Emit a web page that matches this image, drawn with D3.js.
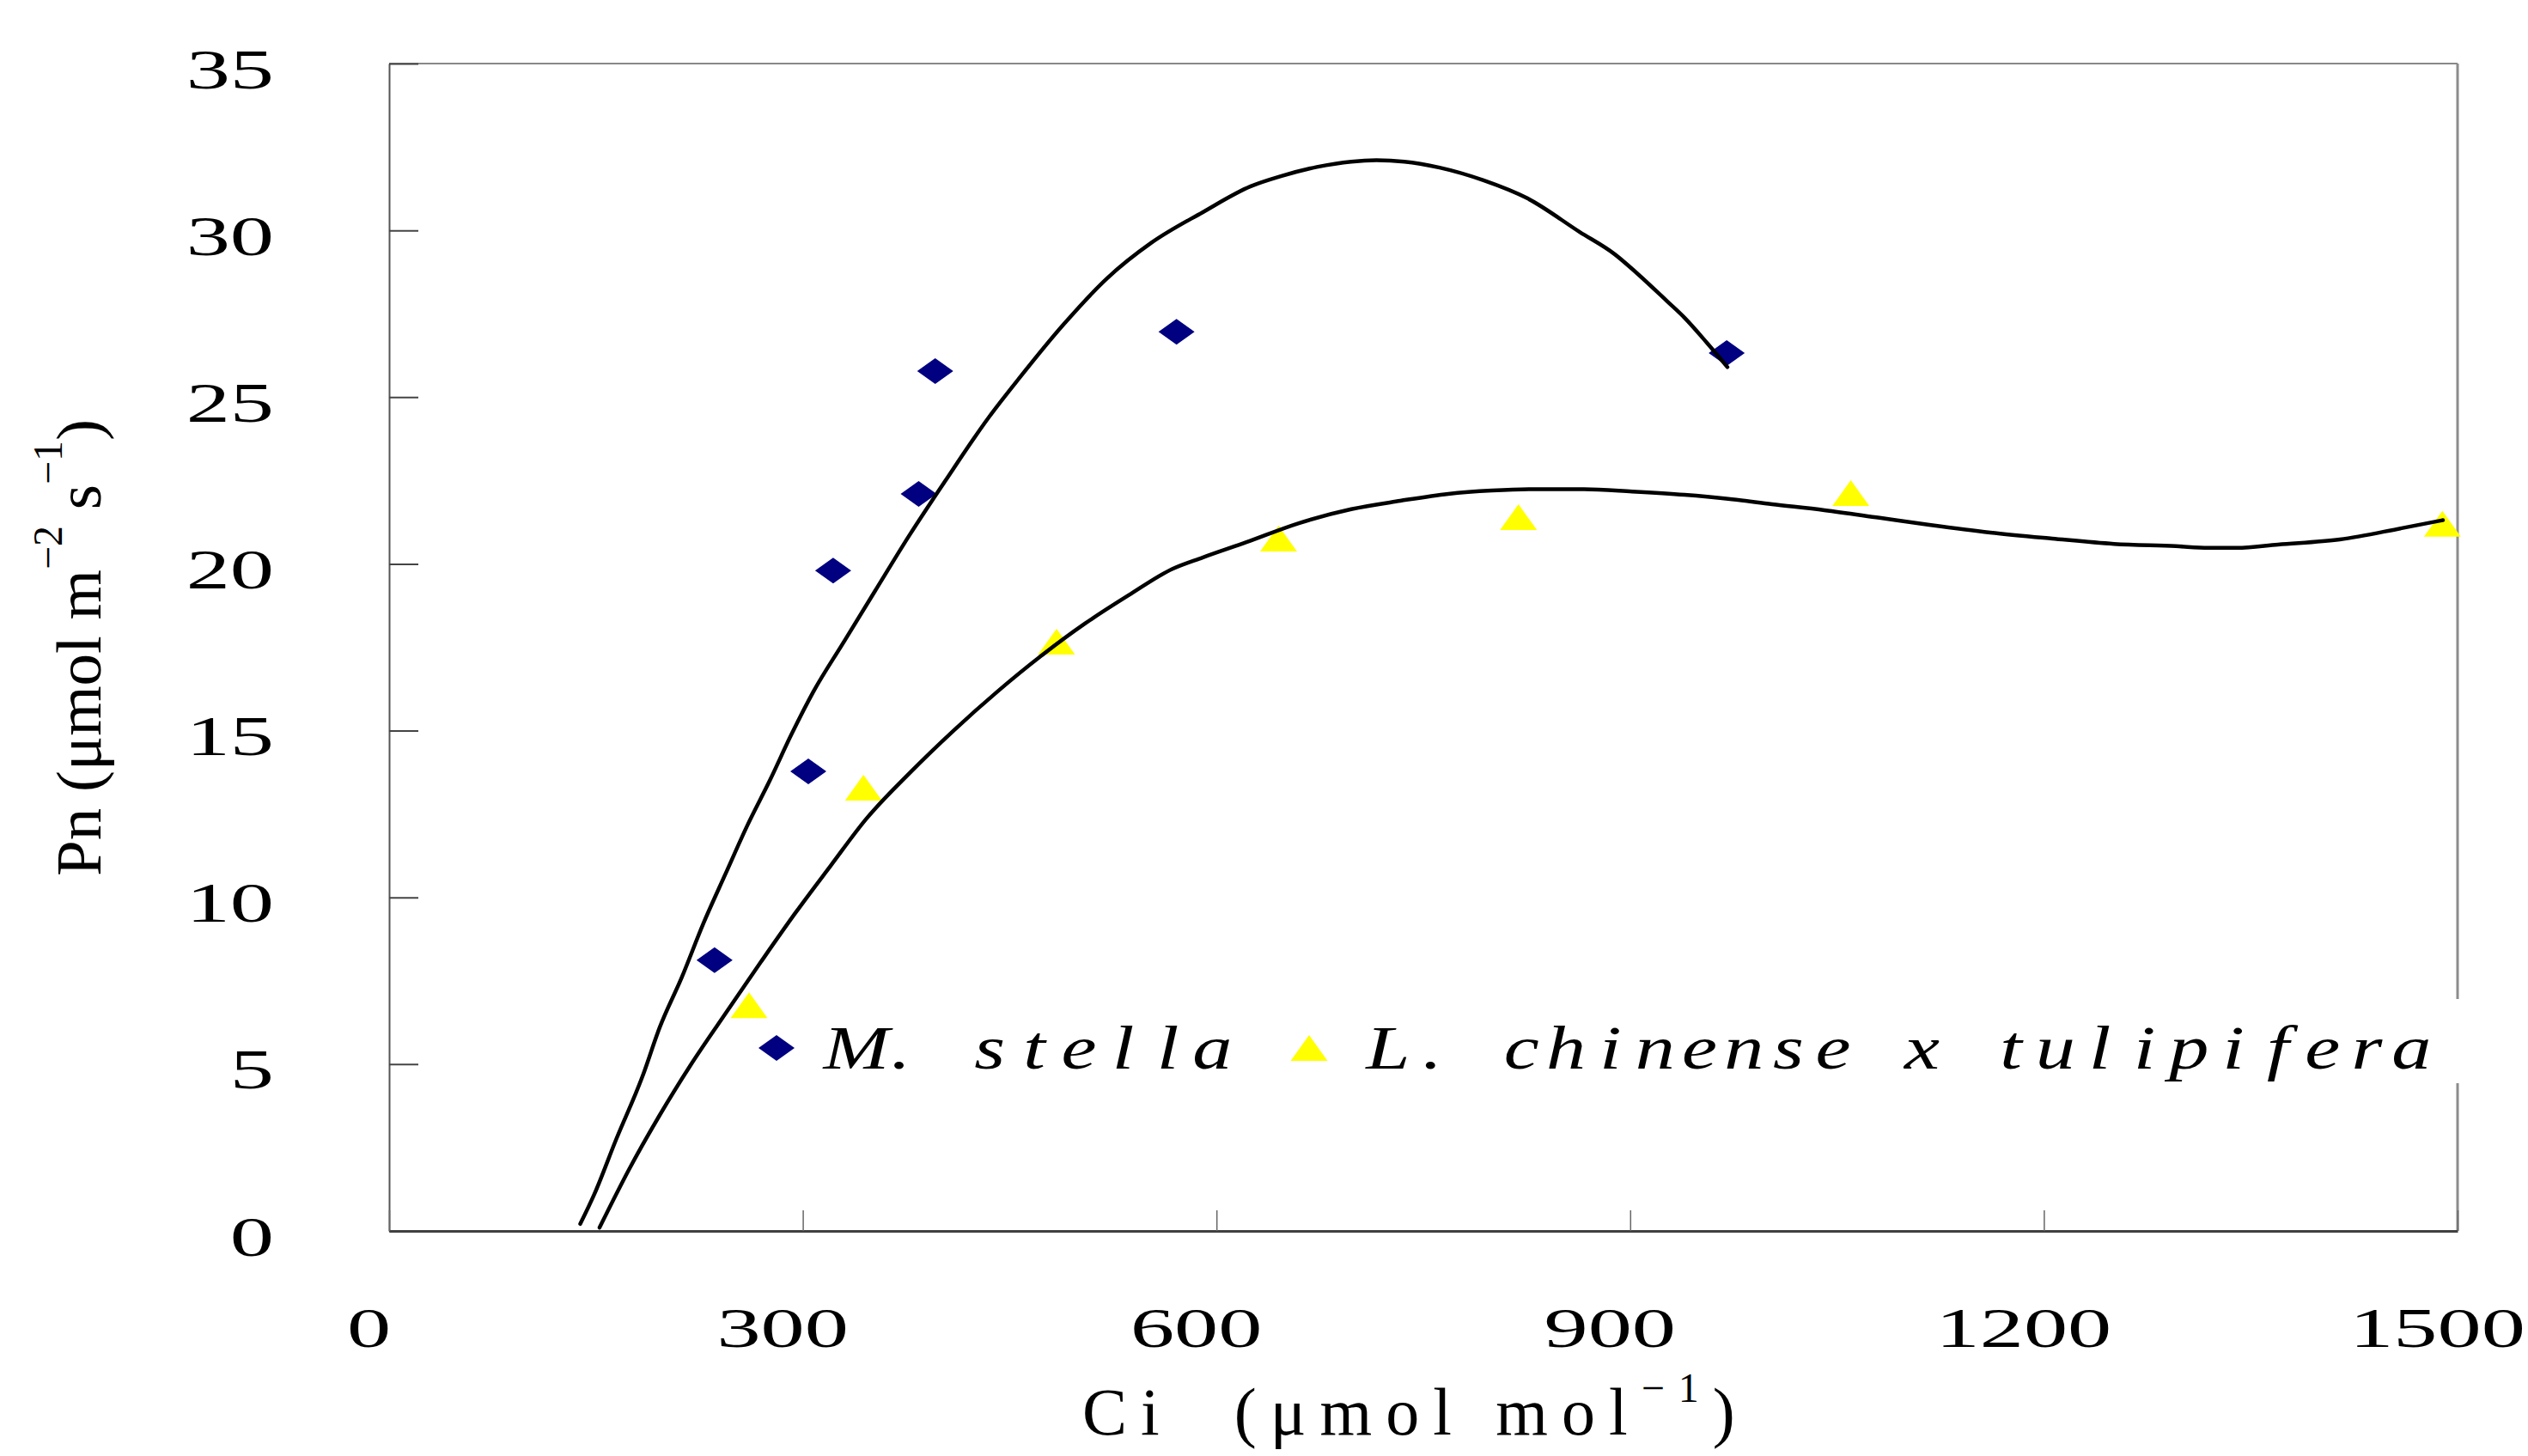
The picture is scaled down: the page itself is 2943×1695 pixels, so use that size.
<!DOCTYPE html>
<html>
<head>
<meta charset="utf-8">
<script src="https://cdn.jsdelivr.net/npm/d3@7"></script>
<style>
  body { margin: 0; background: #fff; }
  svg { display: block; }
</style>
</head>
<body>
<svg id="chart"></svg>
<script>
// measured points, Ci (umol mol-1) / Pn (umol m-2 s-1)
var stellaCi = [236, 304, 322, 384, 396, 571, 970];
var stellaPn = [8.12, 13.78, 19.80, 22.10, 25.78, 26.96, 26.32];
var hybridCi = [261, 344, 484, 645, 819, 1060, 1489];
var hybridPn = [6.77, 13.29, 17.67, 20.76, 21.40, 22.12, 21.20];

// trend lines
var stellaTrendCi = [138.6, 148.9, 164.5, 183.8, 196.2, 212.4, 228.0, 244.2, 259.8, 276.0, 291.8, 307.7, 329.9, 352.0, 377.5, 403.0, 434.8, 457.0, 488.9, 520.6, 552.5, 589.9, 624.8, 647.2, 672.8, 697.7, 716.0, 736.3, 761.8, 793.6, 825.4, 863.4, 888.9, 904.5, 926.9, 939.4, 955.6, 970.5];
var stellaTrendPn = [0.21, 1.11, 2.73, 4.64, 6.10, 7.62, 9.23, 10.73, 12.16, 13.50, 14.89, 16.17, 17.67, 19.16, 20.87, 22.47, 24.39, 25.57, 27.17, 28.56, 29.62, 30.54, 31.32, 31.63, 31.90, 32.06, 32.10, 32.06, 31.88, 31.50, 30.96, 29.95, 29.28, 28.73, 27.87, 27.38, 26.63, 25.90];
var hybridTrendCi = [152.6, 174.2, 196.2, 218.6, 241.1, 269.5, 294.9, 320.2, 345.7, 377.5, 409.3, 441.1, 472.8, 504.6, 536.3, 568.1, 589.9, 621.7, 659.7, 697.7, 733.2, 768.1, 799.8, 828.5, 866.5, 901.4, 939.4, 971.1, 1002.9, 1040.9, 1080.8, 1116.9, 1161.1, 1206.0, 1250.8, 1295.7, 1319.3, 1339.9, 1369.8, 1414.6, 1459.5, 1489.4];
var hybridTrendPn = [0.10, 1.86, 3.47, 4.97, 6.35, 8.06, 9.55, 10.95, 12.34, 13.73, 15.00, 16.17, 17.24, 18.21, 19.06, 19.85, 20.19, 20.65, 21.22, 21.64, 21.89, 22.10, 22.20, 22.24, 22.24, 22.17, 22.07, 21.95, 21.79, 21.61, 21.38, 21.17, 20.94, 20.76, 20.60, 20.53, 20.48, 20.48, 20.58, 20.73, 21.07, 21.31];

var xTicks = [0, 300, 600, 900, 1200, 1500];
var yTicks = [0, 5, 10, 15, 20, 25, 30, 35];
var legendNames = ['M. stella', 'L. chinense x tulipifera'];

var W = 2943, H = 1695;
var box = { left: 453, right: 2861, top: 74, bottom: 1433 };
var SERIF = '"Liberation Serif", "Times New Roman", serif';

var svg = d3.select('#chart').attr('width', W).attr('height', H);

var x = d3.scaleLinear().domain([0, 1500]).range([box.left, box.right]);
var y = d3.scaleLinear().domain([0, 35]).range([box.bottom, box.top]);

function zip(a, b) {
    return a.map(function (v, i) { return [v, b[i]]; });
}

function diamond(cx, cy) {
    var p = d3.path();
    p.moveTo(cx, cy - 15);
    p.lineTo(cx + 21, cy);
    p.lineTo(cx, cy + 15);
    p.lineTo(cx - 21, cy);
    p.closePath();
    return p.toString();
}

function triangle(cx, cy) {
    var p = d3.path();
    p.moveTo(cx, cy - 15);
    p.lineTo(cx + 21.5, cy + 15);
    p.lineTo(cx - 21.5, cy + 15);
    p.closePath();
    return p.toString();
}

// frame: top and right edges
svg.append('line').attr('x1', box.left).attr('x2', box.right).attr('y1', box.top).attr('y2', box.top)
    .attr('stroke', '#888').attr('stroke-width', 2);
svg.append('line').attr('x1', box.right).attr('x2', box.right).attr('y1', box.top).attr('y2', box.bottom)
    .attr('stroke', '#8c8c8c').attr('stroke-width', 3);

// y axis
var yAxis = svg.append('g')
    .attr('transform', 'translate(' + box.left + ',0)')
    .call(d3.axisLeft(y).tickValues(yTicks).tickSizeInner(-34).tickSizeOuter(0).tickFormat(d3.format('d')));
yAxis.select('.domain').attr('stroke', '#555').attr('stroke-width', 2);
yAxis.selectAll('.tick line').attr('stroke', '#444').attr('stroke-width', 2);
yAxis.selectAll('.tick text')
    .attr('x', 0).attr('dy', null).attr('text-anchor', 'end')
    .attr('transform', 'translate(-134,28) scale(1.55,1)')
    .attr('fill', '#000').style('font-family', SERIF).style('font-size', '66px');

// x axis
var xAxis = svg.append('g')
    .attr('transform', 'translate(0,' + box.bottom + ')')
    .call(d3.axisBottom(x).tickValues(xTicks).tickSizeInner(-24).tickSizeOuter(0).tickFormat(d3.format('d')));
xAxis.select('.domain').attr('stroke', '#404040').attr('stroke-width', 3);
xAxis.selectAll('.tick line').attr('stroke', '#666').attr('stroke-width', 1.5);
xAxis.selectAll('.tick text')
    .attr('y', 0).attr('dy', null).attr('text-anchor', 'middle')
    .attr('transform', 'translate(-24,135) scale(1.55,1)')
    .attr('fill', '#000').style('font-family', SERIF).style('font-size', '66px');

// legend box sits under the data marks so the first triangle stays whole
var legend = svg.append('g');
legend.append('rect').attr('x', 940).attr('y', 1163).attr('width', 1934).attr('height', 98).attr('fill', '#fff');

// markers
svg.append('g').selectAll('path')
    .data(zip(stellaCi, stellaPn))
    .enter().append('path')
    .attr('d', function (d) { return diamond(x(d[0]), y(d[1])); })
    .attr('fill', '#000080');

svg.append('g').selectAll('path')
    .data(zip(hybridCi, hybridPn))
    .enter().append('path')
    .attr('d', function (d) { return triangle(x(d[0]), y(d[1])); })
    .attr('fill', '#ffff00');

// trend lines
var line = d3.line()
    .x(function (d) { return x(d[0]); })
    .y(function (d) { return y(d[1]); })
    .curve(d3.curveMonotoneX);

[zip(stellaTrendCi, stellaTrendPn), zip(hybridTrendCi, hybridTrendPn)].forEach(function (pts) {
    svg.append('path')
        .datum(pts)
        .attr('d', line)
        .attr('fill', 'none')
        .attr('stroke', '#000')
        .attr('stroke-width', 4.5)
        .attr('stroke-linejoin', 'round')
        .attr('stroke-linecap', 'round');
});

// legend entries
var legendItems = svg.append('g');
legendItems.append('path').attr('d', diamond(904, 1220)).attr('fill', '#000080');
legendItems.append('path').attr('d', triangle(1524, 1220)).attr('fill', '#ffff00');

function monoText(g, str, x0, adv, sx, baseline) {
    var chars = Array.from(str);
    g.append('text')
        .attr('transform', 'scale(' + sx + ',1)')
        .attr('x', chars.map(function (c, i) { return ((x0 + adv * (i + 0.5)) / sx).toFixed(1); }).join(' '))
        .attr('y', baseline)
        .attr('text-anchor', 'middle')
        .style('white-space', 'pre')
        .style('font-family', SERIF)
        .style('font-style', 'italic')
        .style('font-size', '71px')
        .text(str);
}
monoText(legendItems, legendNames[0], 971, 51.8, 1.3, 1244);
monoText(legendItems, legendNames[1], 1590, 51.8, 1.3, 1244);

// x axis title
var xTitle = svg.append('text')
    .attr('x', 1260).attr('y', 1670)
    .style('font-family', SERIF).style('font-size', '78px')
    .style('letter-spacing', '16px').style('white-space', 'pre');
xTitle.append('tspan').text('Ci  (\u03bcmol mol');
xTitle.append('tspan').attr('dy', -38).style('font-size', '48px').text('\u22121');
xTitle.append('tspan').attr('dy', 38).text(')');

// y axis title
var yTitle = svg.append('text')
    .attr('transform', 'translate(117,754) rotate(-90)')
    .attr('text-anchor', 'middle')
    .style('font-family', SERIF).style('font-size', '75px').style('white-space', 'pre');
yTitle.append('tspan').text('Pn (\u03bcmol m');
yTitle.append('tspan').attr('dy', -45).style('font-size', '48px').text('\u22122');
yTitle.append('tspan').attr('dy', 45).text(' s');
yTitle.append('tspan').attr('dy', -45).style('font-size', '48px').text('\u22121');
yTitle.append('tspan').attr('dy', 45).text(')');
</script>
</body>
</html>
